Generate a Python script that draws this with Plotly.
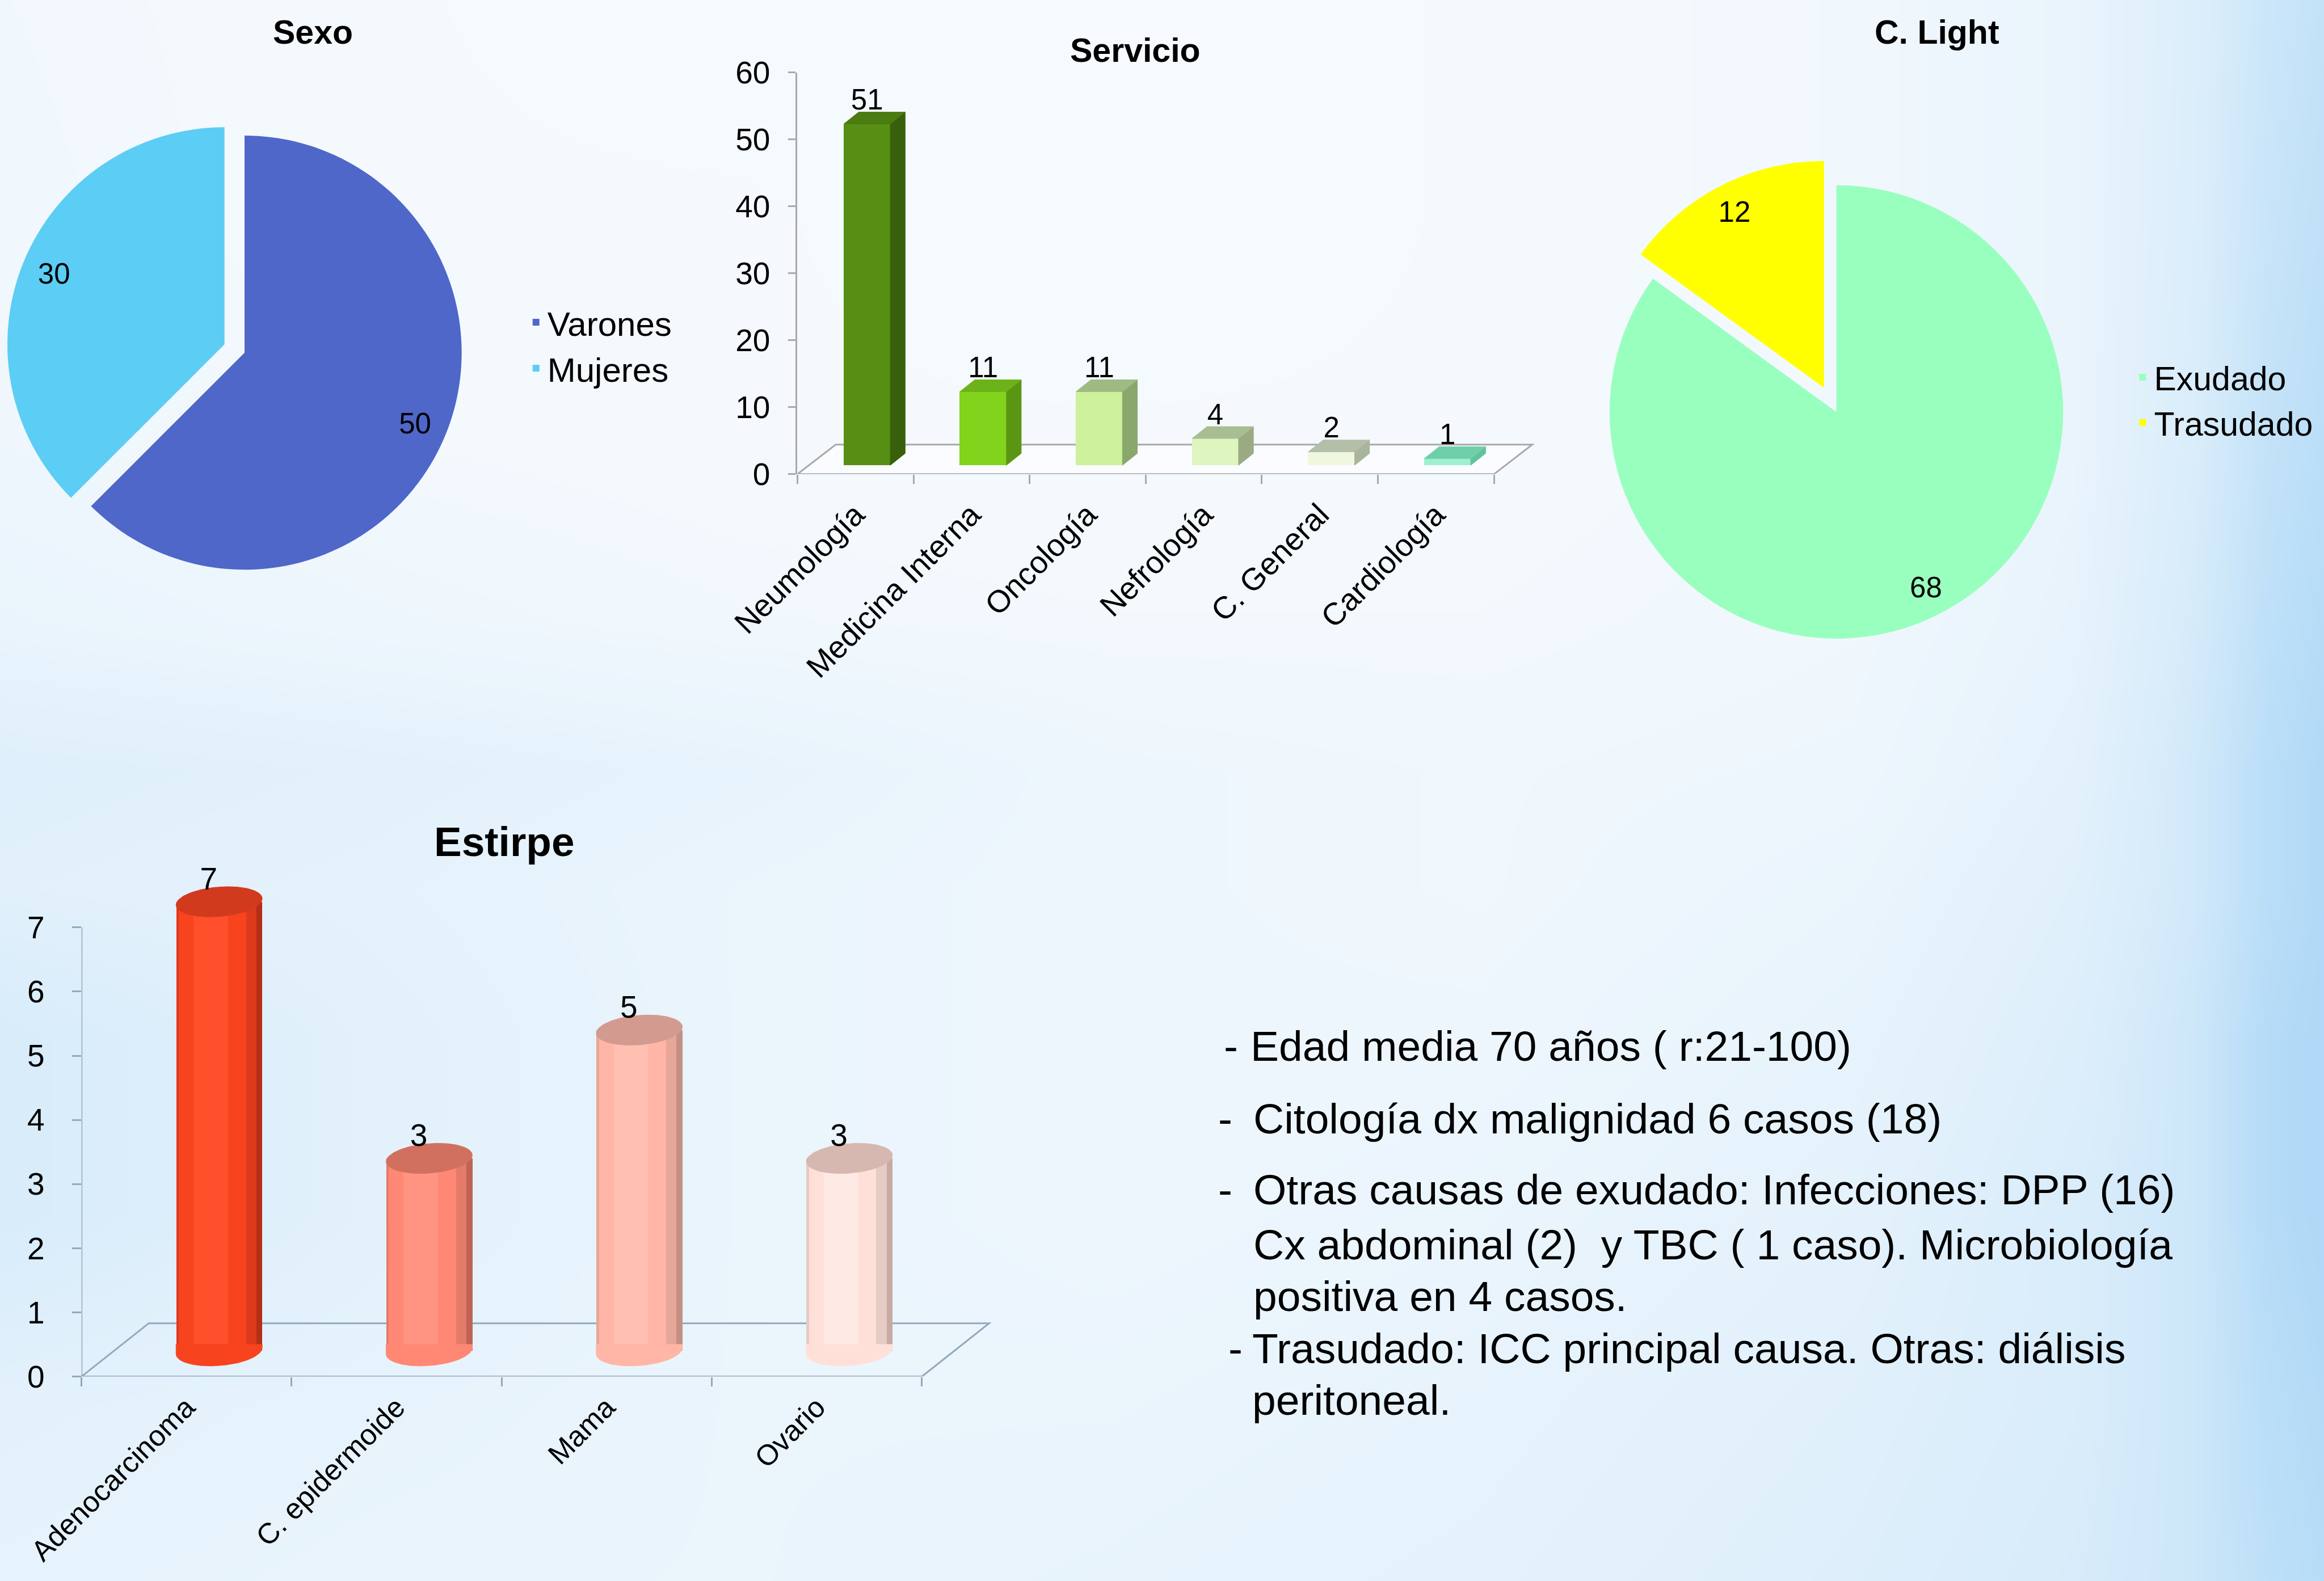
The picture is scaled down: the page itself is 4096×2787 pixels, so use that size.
import math
import plotly.graph_objects as go

W, H = 4096, 2787
DW, DH = 1568, 1067          # layout grid (reference shrunk view)
S = W / DW


def fx(xd):
    return xd / DW


def fy(yd):
    return 1 - yd / DH


def fs(sd):
    return round(sd * S)


FONT = "Liberation Sans"

# ---------------- data ----------------
sexo_labels = ["Varones", "Mujeres"]
sexo_values = [50, 30]
sexo_colors = ["#4f67c8", "#5ccdf4"]

light_labels = ["Exudado", "Trasudado"]
light_values = [68, 12]
light_colors = ["#99ffbf", "#ffff00"]

servicio_cats = ["Neumología", "Medicina Interna", "Oncología", "Nefrología", "C. General", "Cardiología"]
servicio_values = [51, 11, 11, 4, 2, 1]
servicio_front = ["#578f14", "#82d31c", "#cdf19c", "#def5c0", "#eff8df", "#9ff0cf"]
servicio_side = ["#385f0b", "#5a9613", "#8aa86b", "#9aab83", "#a8b49c", "#5fc49d"]
servicio_topc = ["#4b7c11", "#6cb219", "#9fba83", "#a9bd92", "#b3bfa8", "#6fcfa9"]
servicio_yticks = [0, 10, 20, 30, 40, 50, 60]

estirpe_cats = ["Adenocarcinoma", "C. epidermoide", "Mama", "Ovario"]
estirpe_values = [7, 3, 5, 3]
estirpe_dark = ["#b52e16", "#bf6456", "#c49084", "#c6aaa4"]
estirpe_mid = ["#dc3a1c", "#e47a69", "#e6a698", "#e6cbc4"]
estirpe_main = ["#f8431f", "#ff8875", "#ffb6a6", "#ffe0d9"]
estirpe_light = ["#ff4f2b", "#ff9482", "#ffbfb1", "#ffe9e4"]
estirpe_topc = ["#d23a1d", "#d2705f", "#d39b8f", "#d6b8b1"]
estirpe_yticks = [0, 1, 2, 3, 4, 5, 6, 7]

text_lines = [
    "Edad media 70 años ( r:21-100)",
    "Citología dx malignidad 6 casos (18)",
    "Otras causas de exudado: Infecciones: DPP (16)",
    "Cx abdominal (2)  y TBC ( 1 caso). Microbiología",
    "positiva en 4 casos.",
    "Trasudado: ICC principal causa. Otras: diálisis",
    "peritoneal.",
]
text_dash = [True, True, True, False, False, True, False]

# background tint grid (0 = white, 1 = strong blue)
bg_x = [-40, 250, 500, 750, 1000, 1250, 1400, 1480, 1530, 1610]
bg_y = [-40, 150, 300, 420, 520, 600, 700, 820, 950, 1110]
bg_z = [
    [0.10, 0.05, 0.03, 0.03, 0.05, 0.10, 0.22, 0.40, 0.60, 0.80],
    [0.12, 0.05, 0.05, 0.03, 0.05, 0.10, 0.22, 0.42, 0.65, 0.85],
    [0.15, 0.08, 0.05, 0.05, 0.05, 0.10, 0.22, 0.45, 0.70, 0.90],
    [0.22, 0.15, 0.10, 0.08, 0.08, 0.12, 0.25, 0.50, 0.75, 0.95],
    [0.38, 0.32, 0.25, 0.15, 0.12, 0.15, 0.30, 0.55, 0.80, 1.00],
    [0.34, 0.28, 0.20, 0.15, 0.12, 0.20, 0.35, 0.55, 0.80, 1.00],
    [0.50, 0.32, 0.20, 0.15, 0.15, 0.25, 0.40, 0.60, 0.85, 1.00],
    [0.50, 0.32, 0.20, 0.15, 0.20, 0.30, 0.45, 0.60, 0.85, 1.00],
    [0.32, 0.25, 0.20, 0.20, 0.25, 0.35, 0.45, 0.60, 0.80, 0.95],
    [0.25, 0.20, 0.20, 0.25, 0.30, 0.40, 0.50, 0.60, 0.75, 0.90],
]

fig = go.Figure()

# ---------------- background ----------------
fig.add_trace(go.Heatmap(
    x=bg_x, y=bg_y, z=bg_z, zsmooth="best", zmin=0, zmax=1,
    colorscale=[[0, "#f8fbfe"], [0.5, "#d6ebfa"], [1, "#a7d5f6"]],
    showscale=False, hoverinfo="skip", xaxis="x", yaxis="y"))


# ---------------- pies ----------------
def pie_domain(cxd, cyd, rd, pull):
    half = rd * (1 + pull)
    return dict(x=[fx(cxd - half), fx(cxd + half)], y=[fy(cyd + half), fy(cyd - half)])


def add_pie(labels, values, colors, dom, pulls, hole, legend):
    fig.add_trace(go.Pie(
        labels=labels, values=values, sort=False, direction="clockwise", rotation=0,
        marker=dict(colors=colors, line=dict(width=0)), pull=pulls, domain=dom,
        textinfo="none", legend=legend, hoverinfo="label+value"))
    fig.add_trace(go.Pie(
        labels=labels, values=values, sort=False, direction="clockwise", rotation=0,
        marker=dict(colors=["rgba(0,0,0,0)"] * len(values), line=dict(width=0)),
        pull=pulls, domain=dom, hole=hole, showlegend=False,
        textinfo="value", textposition="inside", insidetextorientation="horizontal",
        textfont=dict(family=FONT, size=fs(19.5), color="#000000"), hoverinfo="skip"))


add_pie(sexo_labels, sexo_values, sexo_colors, pie_domain(165, 238, 146.5, 0.1), [0, 0.1], 0.70, "legend")
add_pie(light_labels, light_values, light_colors, pie_domain(1239, 278, 153, 0.12), [0, 0.12], 0.74, "legend2")

# ---------------- Servicio (3D-look bars) ----------------
SV_DX0, SV_W, SV_B0, SV_DDX, SV_DDY = 0.10, 0.40, 1.33, 0.128, 1.77


def poly(xs, ys, color, xa, ya):
    return go.Scatter(x=xs + [xs[0]], y=ys + [ys[0]], mode="lines", fill="toself",
                      fillcolor=color, line=dict(color=color, width=1),
                      xaxis=xa, yaxis=ya, showlegend=False, hoverinfo="skip")


sv_x = [i + SV_DX0 for i in range(len(servicio_values))]
fig.add_trace(go.Bar(
    x=sv_x, y=servicio_values, base=SV_B0, width=SV_W,
    marker=dict(color=servicio_front, line=dict(width=0)),
    xaxis="x2", yaxis="y2", showlegend=False, hovertext=servicio_cats, hoverinfo="text+y"))
for xc, v, cs, ct in zip(sv_x, servicio_values, servicio_side, servicio_topc):
    xl, xr, top = xc - SV_W / 2, xc + SV_W / 2, SV_B0 + v
    fig.add_trace(poly([xr, xr + SV_DDX, xr + SV_DDX, xr],
                       [SV_B0, SV_B0 + SV_DDY, top + SV_DDY, top], cs, "x2", "y2"))
    fig.add_trace(poly([xl, xr, xr + SV_DDX, xl + SV_DDX],
                       [top, top, top + SV_DDY, top + SV_DDY], ct, "x2", "y2"))
fig.add_trace(go.Scatter(
    x=sv_x, y=[SV_B0 + v + SV_DDY * 0.6 for v in servicio_values],
    text=[str(v) for v in servicio_values], mode="text", textposition="top center",
    textfont=dict(family=FONT, size=fs(19.5), color="#000000"), cliponaxis=False,
    xaxis="x2", yaxis="y2", showlegend=False, hoverinfo="skip"))

# ---------------- Estirpe (cylinders) ----------------
ES_DX0, ES_HW, ES_B0, ES_EH, ES_TILT = 0.155, 0.205, 0.40, 0.23, 0.24
es_x = [i + ES_DX0 for i in range(len(estirpe_values))]
for colors, left, right in [(estirpe_dark, -1.0, 1.0), (estirpe_mid, -1.0, 0.86),
                            (estirpe_main, -0.94, 0.62), (estirpe_light, -0.6, 0.2)]:
    fig.add_trace(go.Bar(
        x=es_x, y=estirpe_values, base=ES_B0, width=ES_HW * (right - left), offset=ES_HW * left,
        marker=dict(color=colors, line=dict(width=0)),
        xaxis="x3", yaxis="y3", showlegend=False, hovertext=estirpe_cats, hoverinfo="text+y"))
NSEG = 60
for xc, v, cm, ct in zip(es_x, estirpe_values, estirpe_main, estirpe_topc):
    # bottom rounded edge
    bx, by = [], []
    for k in range(NSEG + 1):
        t = math.pi + math.pi * k / NSEG
        x = xc + ES_HW * math.cos(t)
        bx.append(x)
        by.append(ES_B0 + ES_EH * math.sin(t) + ES_TILT * (x - xc))
    bx += [xc + ES_HW, xc - ES_HW]
    by += [ES_B0 + 0.1, ES_B0 + 0.1]
    fig.add_trace(poly(bx, by, cm, "x3", "y3"))
    # top ellipse
    tx, ty = [], []
    for k in range(2 * NSEG):
        t = 2 * math.pi * k / (2 * NSEG)
        x = xc + ES_HW * math.cos(t)
        tx.append(x)
        ty.append(ES_B0 + v + ES_EH * math.sin(t) + ES_TILT * (x - xc))
    fig.add_trace(poly(tx, ty, ct, "x3", "y3"))
fig.add_trace(go.Scatter(
    x=[x - 0.05 for x in es_x], y=[ES_B0 + v + ES_EH * 0.3 for v in estirpe_values],
    text=[str(v) for v in estirpe_values], mode="text", textposition="top center",
    textfont=dict(family=FONT, size=fs(21), color="#000000"), cliponaxis=False,
    xaxis="x3", yaxis="y3", showlegend=False, hoverinfo="skip"))

# ---------------- layout ----------------
GREY = "#a9a9a9"
BLUEGREY = "#93a9bd"
SV_UX, SV_X0 = 78.33, 538
ES_UX, ES_X0 = 141.75, 55

shapes = [
    dict(type="path", xref="x2", yref="y2", layer="below",
         path="M -0.5,0 L 5.5,0 L 5.83,4.42 L -0.17,4.42 Z",
         fillcolor="rgba(255,255,255,0.55)", line=dict(color=GREY, width=3)),
    dict(type="path", xref="x3", yref="y3", layer="below",
         path="M -0.5,0 L 3.5,0 L 3.82,0.83 L -0.18,0.83 Z",
         fillcolor="rgba(0,0,0,0)", line=dict(color=BLUEGREY, width=3)),
    dict(type="line", xref="x3", yref="y3", layer="below", x0=-0.5, x1=-0.5, y0=0, y1=7,
         line=dict(color=BLUEGREY, width=3)),
]

annotations = []
for txt, xd, yd, sz in [("Sexo", 211, 22, 22.5), ("Servicio", 766, 34, 22.5),
                        ("C. Light", 1307, 22, 22.5), ("Estirpe", 340, 568, 28)]:
    annotations.append(dict(text="<b>%s</b>" % txt, x=fx(xd), y=fy(yd), xref="paper", yref="paper",
                            xanchor="center", yanchor="middle", showarrow=False,
                            font=dict(family=FONT, size=fs(sz), color="#000000")))

line_y = [706, 755, 803, 840, 875, 910, 945]
line_x = [843, 845, 845, 845, 845, 844, 844]
dash_x = [825, 821, 821, None, None, 828, None]
for txt, has_dash, yd, xd, dxd in zip(text_lines, text_dash, line_y, line_x, dash_x):
    annotations.append(dict(text=txt, x=fx(xd), y=fy(yd), xref="paper", yref="paper",
                            xanchor="left", yanchor="middle", showarrow=False,
                            font=dict(family=FONT, size=fs(28.8), color="#000000")))
    if has_dash:
        annotations.append(dict(text="-", x=fx(dxd), y=fy(yd), xref="paper", yref="paper",
                                xanchor="left", yanchor="middle", showarrow=False,
                                font=dict(family=FONT, size=fs(28.8), color="#000000")))

tickfont = dict(family=FONT, size=fs(21), color="#000000")
tickfont_es = dict(family=FONT, size=fs(19.5), color="#000000")

fig.update_layout(
    width=W, height=H, autosize=False,
    margin=dict(l=0, r=0, t=0, b=0, pad=0, autoexpand=False),
    paper_bgcolor="#eef6fd", plot_bgcolor="rgba(0,0,0,0)",
    barmode="overlay", bargap=0,
    font=dict(family=FONT, color="#000000"),
    showlegend=True,
    legend=dict(x=fx(354), y=fy(233), xanchor="left", yanchor="middle",
                bgcolor="rgba(0,0,0,0)", font=dict(family=FONT, size=fs(23), color="#000000"),
                itemclick=False, itemdoubleclick=False),
    legend2=dict(x=fx(1438), y=fy(270), xanchor="left", yanchor="middle",
                 bgcolor="rgba(0,0,0,0)", font=dict(family=FONT, size=fs(22.5), color="#000000"),
                 itemclick=False, itemdoubleclick=False),
    xaxis=dict(domain=[0, 1], range=[0, DW], visible=False, fixedrange=True, automargin=False),
    yaxis=dict(domain=[0, 1], range=[DH, 0], visible=False, fixedrange=True, automargin=False),
    xaxis2=dict(domain=[fx(SV_X0), fx(SV_X0 + 6.4 * SV_UX)], range=[-0.5, 5.9], anchor="y2",
                tickmode="array", tickvals=list(range(len(servicio_cats))), ticktext=servicio_cats,
                tickangle=-45, ticks="outside", ticklen=0, tickfont=tickfont,
                minor=dict(tickmode="array", tickvals=[k - 0.5 for k in range(len(servicio_cats) + 1)],
                           ticks="outside", ticklen=fs(6), tickwidth=3, tickcolor=GREY),
                ticklabelstandoff=fs(6), automargin=False,
                showline=False, showgrid=False, zeroline=False, fixedrange=True),
    yaxis2=dict(domain=[fy(320), fy(49)], range=[0, 60], anchor="x2",
                tickmode="array", tickvals=servicio_yticks, ticks="outside", ticklen=fs(5),
                tickwidth=3, tickcolor=GREY, tickfont=tickfont, ticklabelstandoff=fs(8),
                showline=True, linecolor=GREY, linewidth=3, automargin=False,
                showgrid=False, zeroline=False, fixedrange=True),
    xaxis3=dict(domain=[fx(ES_X0), fx(ES_X0 + 4.4 * ES_UX)], range=[-0.5, 3.9], anchor="y3",
                tickmode="array", tickvals=list(range(len(estirpe_cats))), ticktext=estirpe_cats,
                tickangle=-45, ticks="outside", ticklen=0, tickfont=tickfont_es,
                minor=dict(tickmode="array", tickvals=[k - 0.5 for k in range(len(estirpe_cats) + 1)],
                           ticks="outside", ticklen=fs(6), tickwidth=3, tickcolor=BLUEGREY),
                ticklabelstandoff=fs(1), automargin=False,
                showline=False, showgrid=False, zeroline=False, fixedrange=True),
    yaxis3=dict(domain=[fy(929), fy(929 - 7.9 * 43.3)], range=[0, 7.9], anchor="x3",
                tickmode="array", tickvals=estirpe_yticks, ticks="outside", ticklen=fs(6),
                tickwidth=3, tickcolor=BLUEGREY, tickfont=tickfont, ticklabelstandoff=fs(14),
                showline=False, showgrid=False, zeroline=False, fixedrange=True, automargin=False),
    shapes=shapes,
    annotations=annotations,
)

fig.write_html(
    "out.html",
    config={"displayModeBar": False},
    post_script=("document.body.style.margin='0';"
                 "document.body.style.overflow='hidden';"
                 "document.documentElement.style.overflow='hidden';"),
)
